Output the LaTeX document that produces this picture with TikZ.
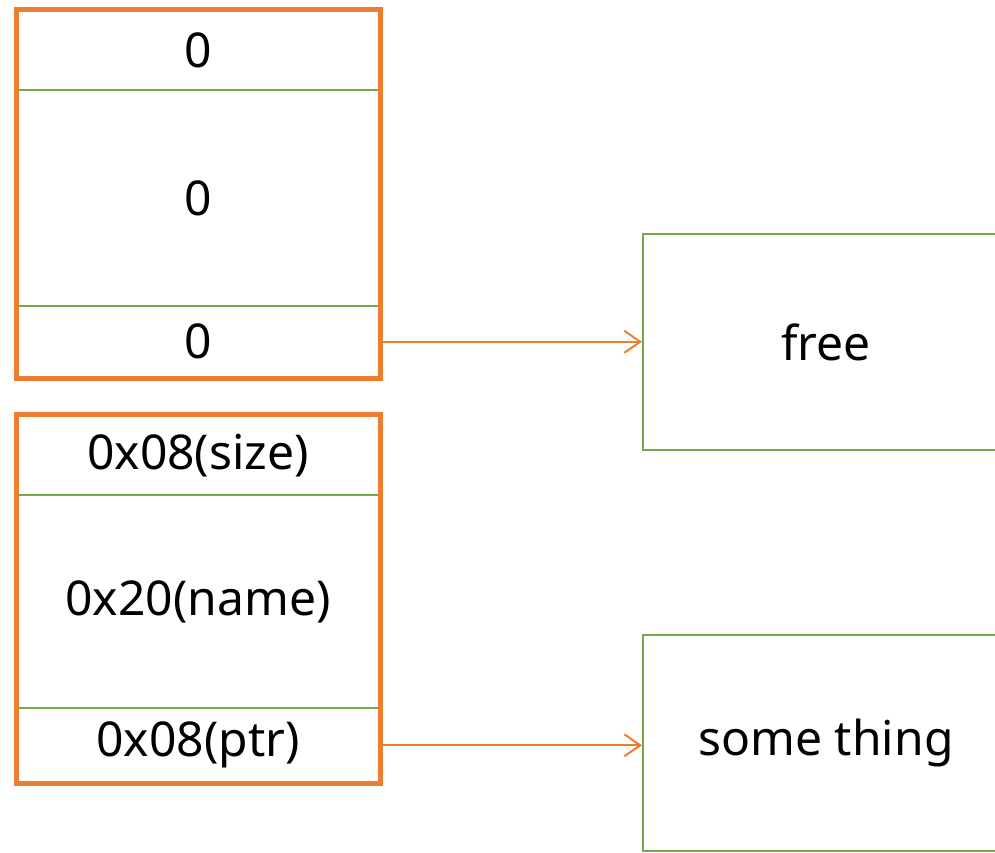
\documentclass[tikz,border=0pt]{standalone}
\usepackage{fontspec}
\setmainfont{Noto Sans}
\usepackage{tikz}
\usetikzlibrary{arrows.meta,positioning,fit}
\definecolor{memorange}{HTML}{ED7D31}
\definecolor{memgreen}{HTML}{70AD47}

\begin{document}
\begin{tikzpicture}[
  x=1pt,y=-1pt,
  every node/.style={font=\fontsize{48}{56}\selectfont},
  cell/.style={draw=memgreen,line width=2pt,inner sep=0pt,
               minimum width=362pt},
  blk/.style={draw=memorange,line width=5pt,inner sep=0pt},
  tgt/.style={draw=memgreen,line width=2pt,inner sep=0pt,
              minimum width=366pt,minimum height=216pt},
  ptr/.style={-{Straight Barb[length=16pt,width=22pt,line width=2pt]},
              line width=2pt,memorange}
]
\useasboundingbox (0,0) rectangle (995,852);
% first chunk
\node[cell,minimum height=80pt](a1) at (198,50){0};
\node[cell,minimum height=216pt](a2) at (198,198){0};
\node[cell,minimum height=71.5pt](a3) at (198,341.75){0};
\node[blk,fit=(a1)(a3)](A){};
% second chunk
\node[cell,minimum height=79.5pt](b1) at (198,455.25){0x08(size)};
\node[cell,minimum height=213pt](b2) at (198,601.5){0x20(name)};
\node[cell,minimum height=74.5pt](b3) at (198,745.25){0x08(ptr)};
\node[blk,fit=(b1)(b3)](B){};
% targets
\node[tgt](free) at (826,342){free};
\node[tgt](thing) at (826,743){some thing};

\draw[ptr](A.east|-a3.east)--(free.west|-a3.east);
\draw[ptr](B.east|-b3.east)--(thing.west|-b3.east);
\end{tikzpicture}
\end{document}
